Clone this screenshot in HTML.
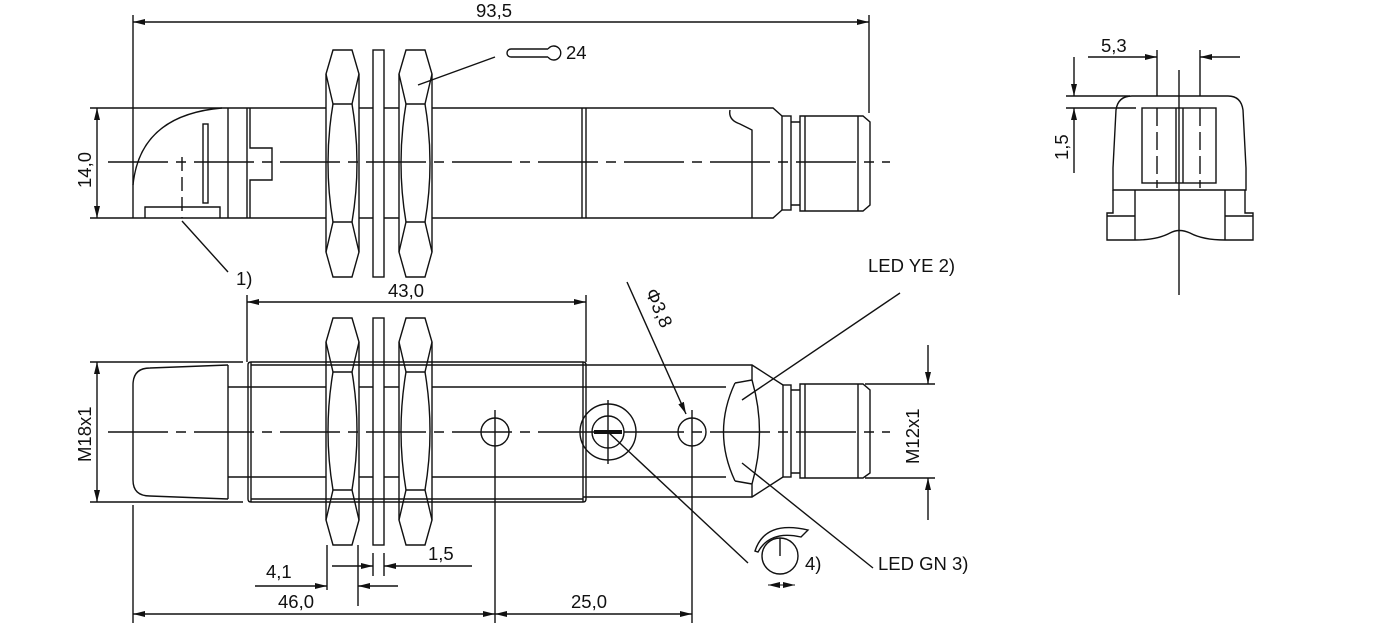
<!DOCTYPE html>
<html><head><meta charset="utf-8"><style>
html,body{margin:0;padding:0;background:#fff;}
svg{display:block;}
text{font-family:"Liberation Sans",sans-serif;font-size:18.5px;fill:#111;}
</style></head><body>
<svg width="1380" height="631" viewBox="0 0 1380 631" xmlns="http://www.w3.org/2000/svg">
<defs>
<marker id="a" viewBox="0 0 12 6" refX="12" refY="3" markerWidth="12" markerHeight="6" orient="auto-start-reverse" markerUnits="userSpaceOnUse"><path d="M0,0L12,3L0,6z" fill="#111"/></marker>
<g id="nut">
<path d="M7,0H26L33,24V202L26,227H7L0,202V24Z"/>
<path d="M0,24L7,54H26L33,24M0,202L7,172H26L33,202"/>
<path d="M7,54Q-3,113 7,172M26,54Q36,113 26,172"/>
</g>
</defs>
<g fill="none" stroke="#111" stroke-width="1.4">
<!-- TOP VIEW -->
<line x1="133" y1="15" x2="133" y2="218"/>
<line x1="869" y1="15" x2="869" y2="113"/>
<line x1="133" y1="22" x2="869" y2="22" marker-start="url(#a)" marker-end="url(#a)"/>
<line x1="90" y1="108" x2="133" y2="108"/><line x1="90" y1="218" x2="133" y2="218"/>
<line x1="97" y1="108" x2="97" y2="218" marker-start="url(#a)" marker-end="url(#a)"/>
<line x1="108" y1="162" x2="890" y2="162" stroke-dasharray="60,8,10,8"/>
<path d="M133,185Q140,115 222,108"/>
<path d="M133,108H326M359,108H373M384,108H399M432,108H773L782,116M133,218H326M359,218H373M384,218H399M432,218H773L782,210"/>
<line x1="228" y1="108" x2="228" y2="218"/>
<line x1="247" y1="108" x2="247" y2="218"/>
<path d="M250,108V148H272V180H250V218"/>
<rect x="203" y="124" width="5" height="79"/>
<path d="M145,218V207H220V218"/>
<line x1="182" y1="157" x2="182" y2="218" stroke-dasharray="14,6"/>
<line x1="182" y1="221" x2="228" y2="272"/>
<line x1="582" y1="108" x2="582" y2="218"/><line x1="586" y1="108" x2="586" y2="218"/>
<path d="M730,110Q728,120 740,124L752,130V218"/>
<rect x="782" y="116" width="9" height="94"/>
<path d="M791,122H800V205H791M800,116H863L870,122V205L863,211H800Z"/>
<line x1="805" y1="116" x2="805" y2="211"/><line x1="858" y1="116" x2="858" y2="211"/>
<use href="#nut" x="326" y="50"/>
<rect x="373" y="50" width="11" height="227"/>
<use href="#nut" x="399" y="50"/>
<line x1="495" y1="57" x2="418" y2="85"/>
<path d="M548,49H511a4,4 0 0 0 0,8H548M548,49a7,7 0 1 1 0,8"/>
<!-- RIGHT VIEW -->
<line x1="1088" y1="57" x2="1157" y2="57" marker-end="url(#a)"/>
<line x1="1240" y1="57" x2="1200" y2="57" marker-end="url(#a)"/>
<line x1="1157" y1="50" x2="1157" y2="96"/><line x1="1200" y1="50" x2="1200" y2="96"/>
<line x1="1157" y1="108" x2="1157" y2="188" stroke-dasharray="18,6"/><line x1="1200" y1="108" x2="1200" y2="188" stroke-dasharray="18,6"/>
<line x1="1179" y1="70" x2="1179" y2="295"/>
<line x1="1074" y1="57" x2="1074" y2="96" marker-end="url(#a)"/>
<line x1="1074" y1="173" x2="1074" y2="108" marker-end="url(#a)"/>
<line x1="1066" y1="96" x2="1130" y2="96"/><line x1="1066" y1="108" x2="1136" y2="108"/>
<path d="M1113,190V168L1116,110Q1118,96 1132,96H1228Q1241,96 1243,110L1246,168V190Z"/>
<rect x="1142" y="108" width="74" height="75"/>
<line x1="1176" y1="108" x2="1176" y2="183"/><line x1="1183" y1="108" x2="1183" y2="183"/>
<path d="M1113,190V213H1107V240H1135M1245,190V213H1253V240H1225M1107,216H1135M1225,216H1253M1135,190V240M1225,190V240M1135,240Q1157,240 1170,233Q1179,228 1190,233Q1203,240 1225,240"/>
<!-- BOTTOM VIEW -->
<line x1="108" y1="432" x2="890" y2="432" stroke-dasharray="60,8,10,8"/>
<line x1="247" y1="295" x2="247" y2="362"/><line x1="586" y1="295" x2="586" y2="362"/>
<line x1="247" y1="302" x2="586" y2="302" marker-start="url(#a)" marker-end="url(#a)"/>
<line x1="90" y1="362" x2="243" y2="362"/><line x1="90" y1="502" x2="243" y2="502"/>
<line x1="97" y1="362" x2="97" y2="502" marker-start="url(#a)" marker-end="url(#a)"/>
<path d="M228,365L150,368Q133,368 133,385V480Q133,496 150,496L228,499"/>
<line x1="228" y1="365" x2="228" y2="499"/>
<path d="M228,387H248M228,477H248"/>
<path d="M248,365Q248,362 251,362H583Q586,362 586,365V499Q586,502 583,502H251Q248,502 248,499Z"/>
<path d="M251,365H583M251,499H583M251,362V502M583,362V502"/>
<path d="M248,387H326M359,387H373M384,387H399M432,387H583M248,477H326M359,477H373M384,477H399M432,477H583"/>
<path d="M583,365H752L783,385M583,497H752L783,477M583,387H726M583,477H726"/>
<path d="M735,383Q712,432 735,481M752,380Q767,432 752,484M735,383L752,380M735,481L752,484M752,365V380M752,484V497"/>
<rect x="783" y="385" width="8" height="92"/>
<path d="M791,390H800V473H791M800,384H863L870,390V473L863,478H800Z"/>
<line x1="805" y1="384" x2="805" y2="478"/><line x1="858" y1="384" x2="858" y2="478"/>
<use href="#nut" x="326" y="318"/>
<rect x="373" y="318" width="11" height="227"/>
<use href="#nut" x="399" y="318"/>
<circle cx="495" cy="432" r="14"/><circle cx="692" cy="432" r="14"/>
<line x1="495" y1="410" x2="495" y2="623"/><line x1="692" y1="410" x2="692" y2="623"/>
<circle cx="608" cy="432" r="28"/><circle cx="608" cy="432" r="16"/>
<line x1="608" y1="400" x2="608" y2="464"/>
<line x1="594" y1="432" x2="622" y2="432" stroke-width="4"/>
<line x1="608" y1="432" x2="748" y2="563"/>
<line x1="627" y1="282" x2="686" y2="414" marker-end="url(#a)"/>
<line x1="900" y1="293" x2="742" y2="400"/>
<line x1="873" y1="568" x2="742" y2="463"/>
<line x1="865" y1="384" x2="935" y2="384"/><line x1="865" y1="478" x2="935" y2="478"/>
<line x1="928" y1="345" x2="928" y2="384" marker-end="url(#a)"/>
<line x1="928" y1="520" x2="928" y2="478" marker-end="url(#a)"/>
<circle cx="780" cy="556" r="18"/><line x1="780" y1="538" x2="780" y2="556"/>
<path d="M755,551Q765,520 808,530L801,537Q770,530 758,552Z"/>
<line x1="768" y1="585" x2="795" y2="585" marker-start="url(#a)" marker-end="url(#a)" stroke-width="1"/>
<!-- bottom dims -->
<line x1="133" y1="505" x2="133" y2="623"/>
<line x1="133" y1="614" x2="495" y2="614" marker-start="url(#a)" marker-end="url(#a)"/>
<line x1="495" y1="614" x2="692" y2="614" marker-start="url(#a)" marker-end="url(#a)"/>
<line x1="327" y1="545" x2="327" y2="590"/><line x1="358" y1="545" x2="358" y2="606"/>
<line x1="255" y1="586" x2="327" y2="586" marker-end="url(#a)"/>
<line x1="398" y1="586" x2="358" y2="586" marker-end="url(#a)"/>
<line x1="332" y1="566" x2="373" y2="566" marker-end="url(#a)"/>
<line x1="472" y1="566" x2="384" y2="566" marker-end="url(#a)"/>
<line x1="373" y1="553" x2="373" y2="576"/><line x1="384" y1="553" x2="384" y2="576"/>
</g>
<text x="476" y="17">93,5</text>
<text x="566" y="59">24</text>
<text x="236" y="285">1)</text>
<text x="1101" y="52">5,3</text>
<text x="1068" y="160" transform="rotate(-90 1068 160)">1,5</text>
<text x="91" y="188" transform="rotate(-90 91 188)">14,0</text>
<text x="388" y="297">43,0</text>
<text x="91" y="462" transform="rotate(-90 91 462)">M18x1</text>
<text x="919" y="464" transform="rotate(-90 919 464)">M12x1</text>
<text x="645" y="292" transform="rotate(66 645 292)">Φ3,8</text>
<text x="868" y="272">LED YE 2)</text>
<text x="878" y="570">LED GN 3)</text>
<text x="805" y="570">4)</text>
<text x="266" y="578">4,1</text>
<text x="428" y="560">1,5</text>
<text x="278" y="608">46,0</text>
<text x="571" y="608">25,0</text>
</svg>
</body></html>
